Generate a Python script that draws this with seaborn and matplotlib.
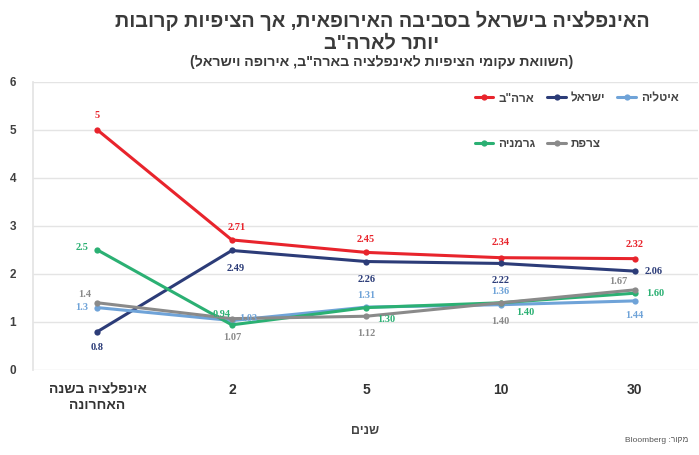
import re
import matplotlib
matplotlib.use("Agg")
import matplotlib.pyplot as plt
import seaborn as sns
import pandas as pd

# ---- data -------------------------------------------------------------
categories = ["אינפלציה בשנה\nהאחרונה", "2", "5", "10", "30"]
us = [5, 2.71, 2.45, 2.34, 2.32]
israel = [0.8, 2.49, 2.26, 2.22, 2.06]
italy = [1.3, 1.03, 1.31, 1.36, 1.44]
germany = [2.5, 0.94, 1.30, 1.40, 1.60]
france = [1.4, 1.07, 1.12, 1.40, 1.67]

series_names = ['ארה"ב', "ישראל", "איטליה", "גרמניה", "צרפת"]
series_values = [us, israel, italy, germany, france]
series_colors = ["#e8242c", "#2c3c78", "#6fa3d8", "#2bb073", "#8a8a8a"]

title_lines = ["האינפלציה בישראל בסביבה האירופאית, אך הציפיות קרובות", 'יותר לארה"ב']
subtitle = '(השוואת עקומי הציפיות לאינפלציה בארה"ב, אירופה וישראל)'
x_title = "שנים"
source = "מקור: Bloomberg"

# label offsets (pixels) for each value label, per series
label_offsets = [
    [(0, 14), (5, 12), (0, 13), (0, 15), (0, 14)],
    [(0, -16), (4, -18), (0, -18), (0, -17), (19, 0)],
    [(-16, 0), (16, 2), (0, 12), (0, 13), (0, -15)],
    [(-15, 2), (-10, 10), (20, -12), (25, -10), (20, 0)],
    [(-13, 8), (0, -19), (0, -17), (0, -19), (-17, 8)],
]
label_fmt = [
    ["5", "2.71", "2.45", "2.34", "2.32"],
    ["0.8", "2.49", "2.26", "2.22", "2.06"],
    ["1.3", "1.03", "1.31", "1.36", "1.44"],
    ["2.5", "0.94", "1.30", "1.40", "1.60"],
    ["1.4", "1.07", "1.12", "1.40", "1.67"],
]

_MIRROR = str.maketrans("()[]", ")(][")


def visual(text):
    """Right-to-left display order for one line of Hebrew text."""
    out = []
    for line in text.split("\n"):
        tokens = re.findall(r"[A-Za-z0-9]+(?:\.[0-9]+)?|.", line)
        out.append("".join(reversed(tokens)).translate(_MIRROR))
    return "\n".join(out)


sns.set_theme(style="white")
plt.rcParams["font.family"] = ["Liberation Sans", "DejaVu Sans"]

rows = []
for name, vals in zip(series_names, series_values):
    for i, v in enumerate(vals):
        rows.append({"pos": i, "value": v, "series": name})
df = pd.DataFrame(rows)

fig = plt.figure(figsize=(6.99, 4.55), dpi=100)
ax = fig.add_axes([33 / 699, 85 / 455, 665 / 699, 288 / 455])

sns.lineplot(
    data=df, x="pos", y="value", hue="series", hue_order=series_names,
    palette=series_colors, marker="o", markersize=4.5, markeredgewidth=0,
    linewidth=2.2, ax=ax, legend=True,
)

ax.set_xlim(-0.48, 4.47)
ax.set_ylim(0, 6)
ax.set_yticks(range(0, 7))
ax.set_yticklabels([str(v) for v in range(0, 7)], fontsize=8.5,
                   fontweight="bold", color="#404040")
ax.tick_params(axis="y", pad=12, length=0)
ax.set_xticks(range(len(categories)))
ax.set_xticklabels([visual(c) for c in categories], fontsize=10,
                   fontweight="bold", color="#333333", linespacing=1.1)
ax.tick_params(axis="x", pad=9, length=0)
ax.grid(axis="y", color="#e4e4e4", linewidth=1)
for s in ["top", "right", "bottom"]:
    ax.spines[s].set_visible(False)
ax.spines["left"].set_color("#e4e4e4")
ax.set_xlabel(visual(x_title), fontsize=9, fontweight="bold", color="#444444",
              labelpad=10)
ax.set_ylabel("")

# value labels
for vals, fmts, offs, col in zip(series_values, label_fmt, label_offsets,
                                 series_colors):
    for i, (v, t, (dx, dy)) in enumerate(zip(vals, fmts, offs)):
        ax.annotate(t, (i, v), xytext=(dx, dy), textcoords="offset pixels",
                    ha="center", va="center", fontsize=7.5,
                    fontweight="bold", color=col,
                    family=["Liberation Serif", "DejaVu Serif"])

# legend: two rows
handles, labels = ax.get_legend_handles_labels()
hmap = dict(zip(labels, handles))
order = ['ארה"ב', "גרמניה", "ישראל", "צרפת", "איטליה"]
ax.legend([hmap[n] for n in order], [visual(n) for n in order], ncol=3,
          loc="upper left", bbox_to_anchor=(0.648, 1.0), frameon=False,
          labelspacing=2.85, handlelength=1.6, handletextpad=0.4,
          columnspacing=1.0, labelcolor="#444444",
          prop={"weight": "bold", "size": 8.5})

cx = 382 / 699
fig.text(cx, 1 - 21 / 455, visual(title_lines[0]), ha="center", va="center",
         fontsize=14.3, fontweight="bold", color="#3a3a3a")
fig.text(cx, 1 - 43 / 455, visual(title_lines[1]), ha="center", va="center",
         fontsize=14.3, fontweight="bold", color="#3a3a3a")
fig.text(cx, 1 - 62 / 455, visual(subtitle), ha="center", va="center",
         fontsize=10.2, fontweight="bold", color="#3a3a3a")
fig.text(688 / 699, 1 - 440 / 455, visual(source), ha="right", va="center",
         fontsize=6, color="#555555")

fig.savefig("out.png", dpi=100)
